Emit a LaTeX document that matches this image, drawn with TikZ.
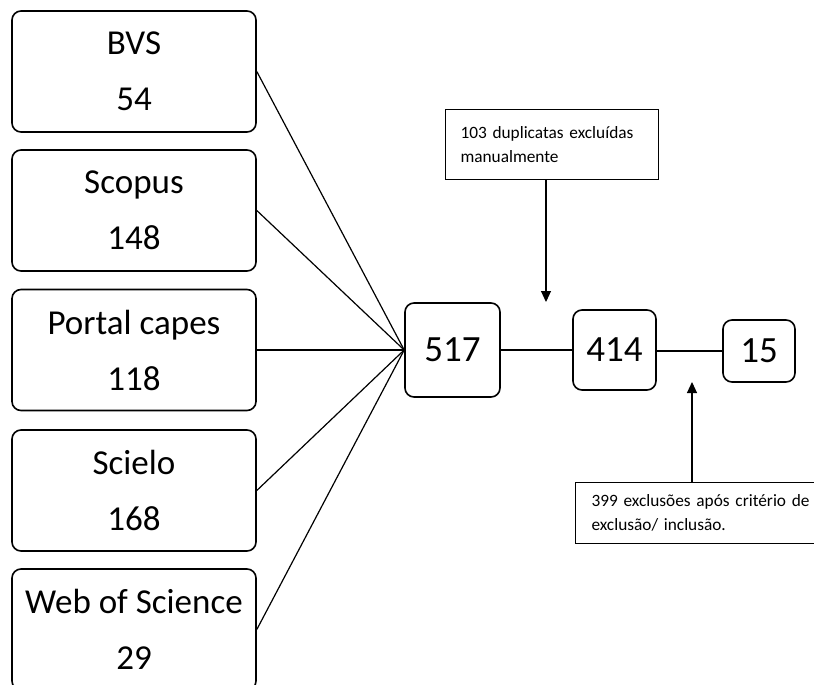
\documentclass[tikz,border=0pt]{standalone}
\usepackage{fontspec}
\setmainfont{Carlito}
\usetikzlibrary{arrows.meta}
\begin{document}
\begin{tikzpicture}[x=1pt, y=-1pt,
srcbox/.style={draw, line width=1.6pt, rounded corners=9pt, minimum width=244pt, minimum height=121pt, align=center, font=\fontsize{35}{56}\selectfont},
numbox/.style={draw, line width=1.6pt, rounded corners=9pt, font=\fontsize{37}{44}\selectfont},
notebox/.style={draw, line width=1pt, align=left, anchor=north west, font=\fontsize{17.3}{24}\selectfont},
link/.style={line width=1.2pt},
pointer/.style={line width=1.1pt, -{Triangle[width=10pt,length=11pt]}}]
\useasboundingbox (0,0) rectangle (814,685);
\clip (0,0) rectangle (814,685);
\node[srcbox] (bvs) at (134,71.5){BVS\\54};
\node[srcbox] (scopus) at (134,210.5){Scopus\\148};
\node[srcbox] (capes) at (134,350){Portal capes\\118};
\node[srcbox] (scielo) at (134,490.5){Scielo\\168};
\node[srcbox] (wos) at (134,629.5){Web of Science\\29};
\node[numbox, minimum width=95pt, minimum height=94pt] (n517) at (452.5,350){517};
\node[numbox, minimum width=83pt, minimum height=80pt] (n414) at (614.5,350){414};
\node[numbox, minimum width=72pt, minimum height=62pt] (n15) at (759,351){15};
\draw[link](bvs.east) -- (n517.west);
\draw[link](scopus.east) -- (n517.west);
\draw[link](capes.east) -- (n517.west);
\draw[link](scielo.east) -- (n517.west);
\draw[link](wos.east) -- (n517.west);
\draw[link](n517.east) -- (n414.west);
\draw[link](n414.east |- n15.west) -- (n15.west);
\node[notebox, text width=183pt, inner xsep=15pt, minimum height=70pt] (dup) at (445,109){103 duplicatas excluídas\\manualmente};
\node[notebox, text width=230pt, inner xsep=16pt, minimum height=61pt] (excl) at (575,482){399 exclusões após critério de\\exclusão/ inclusão.};
\coordinate (duptip) at (546,302);
\coordinate (excltip) at (692,382);
\draw[pointer](duptip |- dup.south) -- (duptip);
\draw[pointer](excltip |- excl.north) -- (excltip);
\end{tikzpicture}
\end{document}
